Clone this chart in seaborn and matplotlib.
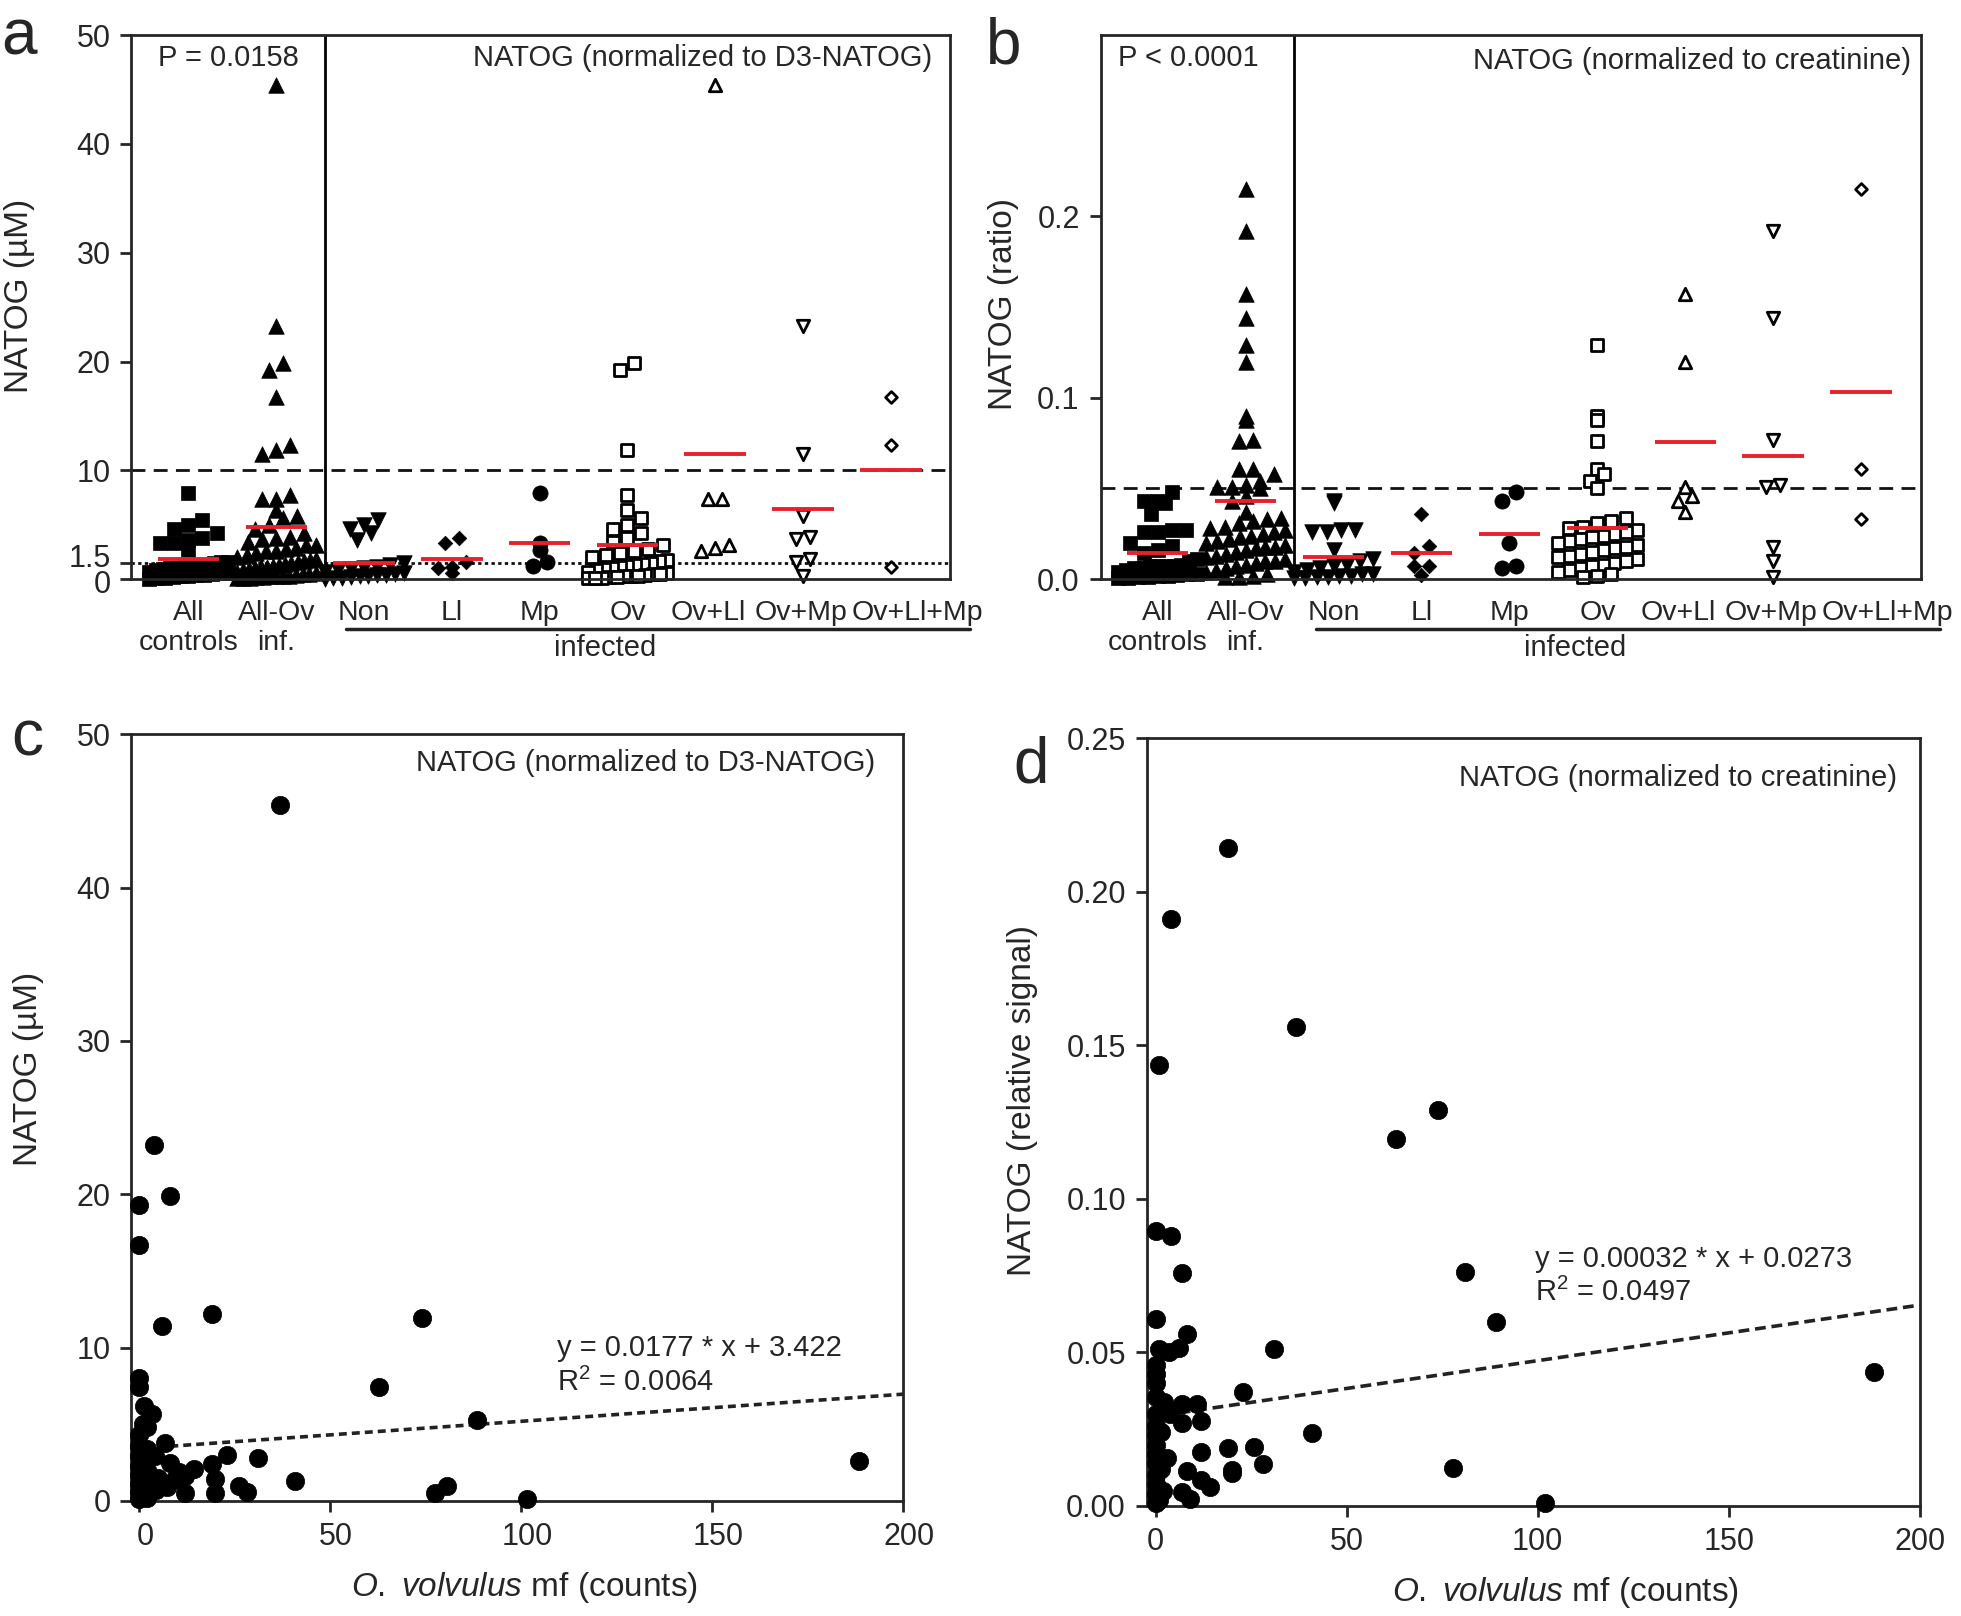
import numpy as np
import pandas as pd
import matplotlib
matplotlib.use("Agg")
import matplotlib.pyplot as plt
import matplotlib.transforms as mtrans
import seaborn as sns

# ---------------- data ----------------
groups = ["All\ncontrols", "All-Ov\ninf.", "Non", "Ll", "Mp", "Ov", "Ov+Ll", "Ov+Mp", "Ov+Ll+Mp"]

# panel a: NATOG (uM), normalized to D3-NATOG
a_non = [5.4, 5.0, 4.6, 4.2, 3.6, 1.5, 1.3, 1.1, 1.0, 0.9, 0.8, 0.7, 0.6, 0.5,
         0.4, 0.35, 0.3, 0.25, 0.2, 0.15, 0.1, 0.05]
a_ll = [3.75, 3.3, 1.6, 1.15, 1.0, 0.55]
a_mp = [7.9, 3.35, 2.7, 1.6, 1.2]
a_ov = [19.9, 19.2, 11.9, 7.7, 6.4, 5.6, 5.0, 4.6, 4.2, 3.8, 3.4, 3.1, 2.8, 2.6,
        2.4, 2.2, 2.0, 1.8, 1.7, 1.5, 1.4, 1.3, 1.2, 1.1, 1.0, 0.9, 0.8, 0.7,
        0.6, 0.5, 0.5, 0.4, 0.3, 0.3, 0.25, 0.2, 0.2, 0.15, 0.1, 0.1]
a_ov_ll = [45.4, 7.4, 7.4, 3.1, 2.85, 2.6]
a_ov_mp = [23.3, 11.5, 5.8, 3.85, 3.65, 1.85, 1.55, 0.3]
a_ov_ll_mp = [16.7, 12.3, 1.15]

# panel b: NATOG ratio, normalized to creatinine
b_non = [0.043, 0.042, 0.027, 0.027, 0.026, 0.026, 0.016, 0.011, 0.010, 0.008,
         0.007, 0.006, 0.005, 0.004, 0.003, 0.003, 0.002, 0.002, 0.001, 0.001,
         0.0005, 0.0005]
b_ll = [0.036, 0.0183, 0.0143, 0.0071, 0.0071, 0.0024]
b_mp = [0.048, 0.043, 0.020, 0.007, 0.006]
b_ov = [0.129, 0.090, 0.088, 0.076, 0.061, 0.058, 0.054, 0.050,
        0.034, 0.032, 0.031, 0.029, 0.028, 0.027, 0.026, 0.025, 0.024, 0.023,
        0.022, 0.021, 0.020, 0.019, 0.018, 0.017, 0.016, 0.015, 0.014, 0.013,
        0.012, 0.011, 0.010, 0.009, 0.008, 0.007, 0.006, 0.005, 0.004, 0.003,
        0.002, 0.001]
b_ov_ll = [0.157, 0.120, 0.051, 0.046, 0.043, 0.037]
b_ov_mp = [0.192, 0.144, 0.077, 0.052, 0.051, 0.018, 0.010, 0.001]
b_ov_ll_mp = [0.215, 0.061, 0.033]

# panel c: mf counts vs NATOG (uM)
mf_c = [37.0, 4.0, 0, 8.1, 0, 5.9, 19.0, 74.0, 62.9, 88.6, 188.5, 101.6, 77.4,
        80.5, 0, 0, 1.2, 3.4, 2.1, 6.9, 4.3, 8.2, 14.3, 19.0, 23.1, 31.1, 40.9,
        12.1, 20.0, 20.0, 26.1, 28.3, 12.1, 7.4, 9.5, 3.0, 0, 0, 0, 0, 0, 0, 0,
        0, 2.0, 2.0, 2.0, 2.0, 1.0, 1.0, 4.5, 10.5, 5.0]
natog_c = [45.4, 23.2, 19.3, 19.9, 16.7, 11.4, 12.2, 11.9, 7.4, 5.3, 2.6, 0.15,
           0.55, 1.0, 8.0, 7.4, 6.2, 5.7, 4.8, 3.8, 2.9, 2.5, 2.1, 2.4, 3.0, 2.8,
           1.3, 1.6, 1.4, 0.55, 1.0, 0.6, 0.55, 0.9, 1.4, 1.2, 4.3, 3.6, 2.9,
           2.3, 1.7, 1.1, 0.6, 0.1, 3.4, 2.0, 0.8, 0.2, 5.0, 0.4, 0.7, 1.9, 1.5]

# panel d: mf counts vs NATOG (relative signal)
mf_d = [18.9, 4.1, 36.8, 1.0, 73.9, 62.8, 80.9, 89.0, 188.0, 101.8, 77.9, 0, 4.1,
        7.0, 0, 8.1, 1.0, 3.5, 6.1, 31.0, 0, 0, 0, 0, 2.2, 22.9, 7.0, 10.9, 3.9,
        7.0, 11.9, 41.0, 18.9, 25.8, 11.9, 28.0, 20.0, 20.0, 8.1, 3.0, 11.9,
        14.2, 7.0, 9.1, 0, 0, 0, 0, 0, 0, 0, 0, 0, 0, 1.5, 1.5, 2.0, 1.0]
natog_d = [0.2143, 0.191, 0.156, 0.1434, 0.129, 0.1195, 0.0762, 0.0599, 0.0435,
           0.001, 0.0122, 0.0895, 0.0878, 0.0760, 0.061, 0.056, 0.0512, 0.0501,
           0.0514, 0.0512, 0.046, 0.043, 0.040, 0.0355, 0.034, 0.0372, 0.0332,
           0.0332, 0.030, 0.0270, 0.0277, 0.0237, 0.019, 0.0192, 0.0176, 0.0138,
           0.0118, 0.0107, 0.0115, 0.0157, 0.0086, 0.0062, 0.0045, 0.0022, 0.030,
           0.026, 0.023, 0.020, 0.017, 0.014, 0.010, 0.007, 0.004, 0.001, 0.024,
           0.012, 0.005, 0.002]

# regression lines (c as printed, d as drawn)
fit_c = (0.0177, 3.422)
fit_d = (0.000181, 0.0292)

# ---------------- style ----------------
sns.set_theme(style="ticks")
plt.rcParams["font.family"] = ["Liberation Sans", "DejaVu Sans"]
plt.rcParams["mathtext.fontset"] = "custom"
plt.rcParams["mathtext.rm"] = "Liberation Sans"
plt.rcParams["mathtext.it"] = "Liberation Sans:italic"
FS = 21      # annotation text
CFS = 20.5   # category labels
TFS = 22     # tick labels
LFS = 24     # axis labels
RED = "#e8202a"

markers = ["s", "^", "v", "D", "o", "s", "^", "v", "D"]
filled = [True, True, True, True, True, False, False, False, False]
msizes = [105, 125, 125, 55, 120, 75, 80, 80, 36]
label_pos = [0, 1, 2, 3, 4, 5, 5.92, 6.98, 8.3]


def spread(vals, center, bin_h, step, half=0.45):
    # column-scatter layout: points sharing a value band are set side by side
    vals = np.asarray(vals, dtype=float)
    xs = np.full(len(vals), float(center))
    bins = np.round(vals / bin_h).astype(int)
    for b in np.unique(bins):
        idx = np.where(bins == b)[0]
        k = len(idx)
        if k < 2:
            continue
        st = min(step, 2 * half / (k - 1))
        idx = idx[np.argsort(vals[idx])]
        xs[idx] = center + (np.arange(k) - (k - 1) / 2) * st
    return xs


def shift_label(fig, lab, dx_pt, dy_pt):
    lab.set_transform(lab.get_transform() +
                      mtrans.ScaledTranslation(dx_pt / 72, dy_pt / 72, fig.dpi_scale_trans))


def dot_panel(ax, sets, bin_h, cutoff, dotted=None):
    ax.set_xlim(-0.65, 8.68)
    ax.axhline(cutoff, color="#111111", lw=2, ls=(0, (5, 3)), zorder=1)
    if dotted is not None:
        ax.axhline(dotted, color="#111111", lw=2, ls=(0, (1.2, 1.2)), zorder=1)
    ax.axvline(1.55, color="black", lw=2, zorder=1)
    for i, vals in enumerate(sets):
        df = pd.DataFrame({"v": vals})
        df["x"] = spread(df["v"], i, bin_h, 0.16)
        if filled[i]:
            kw = dict(color="black", edgecolor="black", linewidth=0.5)
        else:
            kw = dict(color="white", edgecolor="black", linewidth=2)
        sns.scatterplot(data=df, x="x", y="v", marker=markers[i], s=msizes[i],
                        ax=ax, legend=False, clip_on=False, zorder=2, **kw)
        ax.hlines(np.mean(vals), i - 0.35, i + 0.35, color=RED, lw=2.8, zorder=3)
    ax.set_xticks(label_pos)
    ax.set_xticklabels(groups, fontsize=CFS, linespacing=1.2)
    ax.tick_params(axis="x", length=0, pad=15)
    ax.tick_params(axis="y", length=8, width=2, labelsize=TFS, pad=7)
    ax.set_xlabel("")
    # "infected" bracket
    ax.plot([1.8, 8.9], [-0.092, -0.092], color="#222222", lw=2.5,
            transform=ax.get_xaxis_transform(), clip_on=False)
    ax.text(4.75, -0.127, "infected", fontsize=FS, ha="center", va="center",
            transform=ax.get_xaxis_transform())
    for s in ax.spines.values():
        s.set_linewidth(2)


fig = plt.figure(figsize=(19.61, 16.16), dpi=100)
ax_a = fig.add_axes([0.0670, 0.6416, 0.4177, 0.3367])
ax_b = fig.add_axes([0.5612, 0.6416, 0.4184, 0.3367])
ax_c = fig.add_axes([0.0670, 0.0712, 0.3935, 0.4745])
ax_d = fig.add_axes([0.5848, 0.0681, 0.3942, 0.4752])

# ---- panel a
sets_a = [a_non + a_ll + a_mp, a_ov + a_ov_ll + a_ov_mp + a_ov_ll_mp,
          a_non, a_ll, a_mp, a_ov, a_ov_ll, a_ov_mp, a_ov_ll_mp]
dot_panel(ax_a, sets_a, 1.3, 10, dotted=1.5)
ax_a.set_ylim(0, 50)
ax_a.set_yticks([0, 1.5, 10, 20, 30, 40, 50])
ax_a.set_yticklabels(["0", "1.5", "10", "20", "30", "40", "50"])
ylabs = ax_a.get_yticklabels()
shift_label(fig, ylabs[1], 0, 5)
shift_label(fig, ylabs[0], 0, -2)
ax_a.set_ylabel("NATOG (µM)", fontsize=LFS)
ax_a.yaxis.set_label_coords(-0.118, 0.52)
ax_a.text(0.119, 0.958, "P = 0.0158", transform=ax_a.transAxes, fontsize=FS,
          ha="center", va="center")
ax_a.text(0.977, 0.958, "NATOG (normalized to D3-NATOG)", transform=ax_a.transAxes,
          fontsize=FS, ha="right", va="center")

# ---- panel b
sets_b = [b_non + b_ll + b_mp, b_ov + b_ov_ll + b_ov_mp + b_ov_ll_mp,
          b_non, b_ll, b_mp, b_ov, b_ov_ll, b_ov_mp, b_ov_ll_mp]
dot_panel(ax_b, sets_b, 0.0078, 0.05)
ax_b.set_ylim(0, 0.3)
ax_b.set_yticks([0, 0.1, 0.2])
ax_b.set_yticklabels(["0.0", "0.1", "0.2"])
ax_b.set_ylabel("NATOG (ratio)", fontsize=LFS)
ax_b.yaxis.set_label_coords(-0.099, 0.506)
ax_b.text(0.107, 0.958, "P < 0.0001", transform=ax_b.transAxes, fontsize=FS,
          ha="center", va="center")
ax_b.text(0.988, 0.953, "NATOG (normalized to creatinine)", transform=ax_b.transAxes,
          fontsize=FS, ha="right", va="center")

# ---- panels c, d
def scatter_panel(ax, x, y, fit, xlo, ylim, yticks, yfmt, dash):
    df = pd.DataFrame({"mf": x, "natog": y})
    sns.scatterplot(data=df, x="mf", y="natog", s=175, color="black",
                    edgecolor="black", linewidth=0.5, ax=ax, legend=False,
                    clip_on=False, zorder=3)
    lx = np.array([xlo, 200.0])
    ax.plot(lx, fit[0] * lx + fit[1], color="#222222", lw=2.6, ls=(0, dash), zorder=2)
    ax.set_xlim(xlo, 200)
    ax.set_ylim(*ylim)
    ax.set_xticks([0, 50, 100, 150, 200])
    ax.set_yticks(yticks)
    ax.set_yticklabels([yfmt.format(t) for t in yticks])
    ax.tick_params(length=8, width=2, labelsize=TFS, pad=7)
    ax.set_xlabel(r"$\mathit{O.\ volvulus}$ mf (counts)", fontsize=LFS)
    for s in ax.spines.values():
        s.set_linewidth(2)


scatter_panel(ax_c, mf_c, natog_c, fit_c, -2, (0, 50), [0, 10, 20, 30, 40, 50],
              "{:g}", (2.2, 1.4))
for lab in ax_c.get_xticklabels():
    shift_label(fig, lab, 4.5, 0)
ax_c.set_ylabel("NATOG (µM)", fontsize=LFS)
ax_c.yaxis.set_label_coords(-0.113, 0.563)
ax_c.xaxis.set_label_coords(0.509, -0.09)
ax_c.text(0.964, 0.962, "NATOG (normalized to D3-NATOG)", transform=ax_c.transAxes,
          fontsize=FS, ha="right", va="center")
ax_c.text(0.551, 0.199, "y = 0.0177 * x + 3.422", transform=ax_c.transAxes,
          fontsize=FS, ha="left", va="center")
ax_c.text(0.551, 0.155, "R$^2$ = 0.0064", transform=ax_c.transAxes,
          fontsize=FS, ha="left", va="center")

scatter_panel(ax_d, mf_d, natog_d, fit_d, -2.3, (0, 0.25),
              [0, 0.05, 0.10, 0.15, 0.20, 0.25], "{:.2f}", (3, 1.6))
ax_d.set_ylabel("NATOG (relative signal)", fontsize=LFS)
ax_d.yaxis.set_label_coords(-0.141, 0.528)
ax_d.xaxis.set_label_coords(0.542, -0.09)
ax_d.text(0.971, 0.948, "NATOG (normalized to creatinine)", transform=ax_d.transAxes,
          fontsize=FS, ha="right", va="center")
ax_d.text(0.502, 0.321, "y = 0.00032 * x + 0.0273", transform=ax_d.transAxes,
          fontsize=FS, ha="left", va="center")
ax_d.text(0.502, 0.278, "R$^2$ = 0.0497", transform=ax_d.transAxes,
          fontsize=FS, ha="left", va="center")

# panel letters
for lab, x, y in [("a", 0.0096, 0.977), ("b", 0.512, 0.971),
                  ("c", 0.014, 0.543), ("d", 0.526, 0.526)]:
    fig.text(x, y, lab, fontsize=46, ha="center", va="center")

fig.savefig("out.png", dpi=100)
